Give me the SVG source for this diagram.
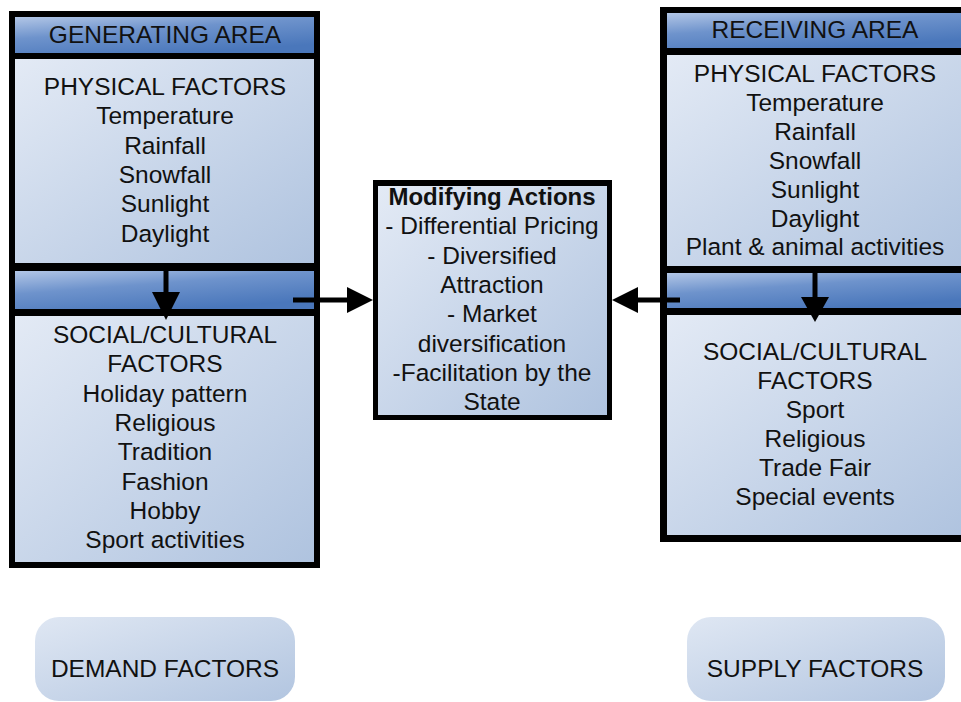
<svg xmlns="http://www.w3.org/2000/svg" width="961" height="702" viewBox="0 0 961 702">
<defs>
<linearGradient id="light" x1="0" y1="0" x2="1" y2="1">
<stop offset="0" stop-color="#e3eaf5"/>
<stop offset="1" stop-color="#afc3df"/>
</linearGradient>
<linearGradient id="dark" x1="0" y1="0" x2="0.6" y2="1">
<stop offset="0" stop-color="#b2c6e6"/>
<stop offset="0.45" stop-color="#6e93cc"/>
<stop offset="1" stop-color="#4a77bb"/>
</linearGradient>
<linearGradient id="pill" x1="0" y1="0" x2="1" y2="1">
<stop offset="0" stop-color="#dfe7f3"/>
<stop offset="1" stop-color="#b2c5e0"/>
</linearGradient>
</defs>
<style>
text{font-family:"Liberation Sans",Arial,sans-serif;font-size:24.5px;fill:#111;text-anchor:middle}
.b{font-weight:bold;font-size:24px}
.frame{fill:#000}
.lt{fill:url(#light)}
.dk{fill:url(#dark)}
.pl{fill:url(#pill)}
.ln{stroke:#000;stroke-width:5;fill:none}
.hd{fill:#000}
</style>
<rect width="961" height="702" fill="#fff"/>

<g id="generating-area">
<rect class="frame" x="9" y="11" width="311" height="557"/>
<rect class="dk" x="15" y="17" width="299" height="36"/>
<rect class="lt" x="15" y="59" width="299" height="204"/>
<rect class="dk" x="15" y="271" width="299" height="38"/>
<rect class="lt" x="15" y="316" width="299" height="246"/>
<text x="165" y="43">GENERATING AREA</text>
<text x="165" y="95">PHYSICAL FACTORS</text>
<text x="165" y="124.3">Temperature</text>
<text x="165" y="153.6">Rainfall</text>
<text x="165" y="182.9">Snowfall</text>
<text x="165" y="212.2">Sunlight</text>
<text x="165" y="241.5">Daylight</text>
<text x="165" y="343">SOCIAL/CULTURAL</text>
<text x="165" y="372.3">FACTORS</text>
<text x="165" y="401.6">Holiday pattern</text>
<text x="165" y="430.9">Religious</text>
<text x="165" y="460.2">Tradition</text>
<text x="165" y="489.5">Fashion</text>
<text x="165" y="518.8">Hobby</text>
<text x="165" y="548.1">Sport activities</text>
</g>

<g id="modifying-actions">
<rect class="frame" x="373" y="180" width="239" height="240"/>
<rect class="lt" x="378" y="186" width="229" height="229"/>
<text class="b" x="492" y="205">Modifying Actions</text>
<text x="492" y="234.3">- Differential Pricing</text>
<text x="492" y="263.6">- Diversified</text>
<text x="492" y="292.9">Attraction</text>
<text x="492" y="322.2">- Market</text>
<text x="492" y="351.5">diversification</text>
<text x="492" y="380.8">-Facilitation by the</text>
<text x="492" y="410.1">State</text>
</g>

<g id="receiving-area">
<rect class="frame" x="660" y="7" width="310" height="535"/>
<rect class="dk" x="667" y="13" width="300" height="35"/>
<rect class="lt" x="667" y="55" width="300" height="211"/>
<rect class="dk" x="667" y="273" width="300" height="35"/>
<rect class="lt" x="667" y="315" width="300" height="220"/>
<text x="815" y="38">RECEIVING AREA</text>
<text x="815" y="82">PHYSICAL FACTORS</text>
<text x="815" y="110.9">Temperature</text>
<text x="815" y="139.8">Rainfall</text>
<text x="815" y="168.7">Snowfall</text>
<text x="815" y="197.6">Sunlight</text>
<text x="815" y="226.5">Daylight</text>
<text x="815" y="255.4">Plant &amp; animal activities</text>
<text x="815" y="360">SOCIAL/CULTURAL</text>
<text x="815" y="389">FACTORS</text>
<text x="815" y="418">Sport</text>
<text x="815" y="447">Religious</text>
<text x="815" y="476">Trade Fair</text>
<text x="815" y="505">Special events</text>
</g>

<g id="demand-factors">
<rect class="pl" x="35" y="617" width="260" height="84" rx="24"/>
<text x="165" y="677">DEMAND FACTORS</text>
</g>

<g id="supply-factors">
<rect class="pl" x="687" y="617" width="258" height="84" rx="24"/>
<text x="815" y="677">SUPPLY FACTORS</text>
</g>

<g id="connectors">
<line class="ln" x1="166" y1="268" x2="166" y2="294"/>
<polygon class="hd" points="152,292 180,292 166,320"/>
<line class="ln" x1="293" y1="300" x2="349" y2="300"/>
<polygon class="hd" points="347,287 373,300 347,313"/>
<line class="ln" x1="680" y1="300" x2="636" y2="300"/>
<polygon class="hd" points="638,287 612,300 638,313"/>
<line class="ln" x1="815" y1="270" x2="815" y2="299"/>
<polygon class="hd" points="801,297 829,297 815,322"/>
</g>
</svg>
